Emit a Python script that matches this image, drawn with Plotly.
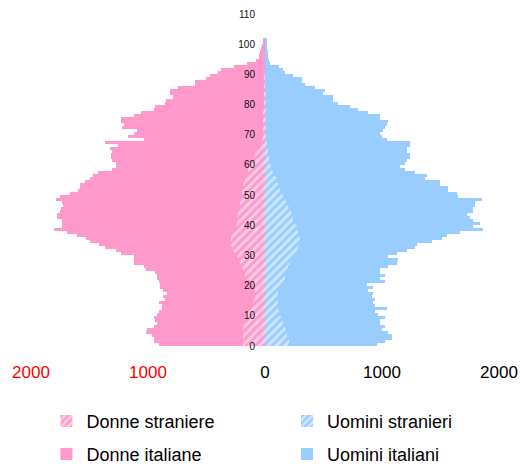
import plotly.graph_objects as go

# eta' da 0 a 101 anni
eta = list(range(102))

donne_totale = [
    906, 949, 949, 966, 1017, 1009, 949, 923, 940, 949,
    923, 906, 881, 881, 906, 855, 872, 838, 872, 898,
    898, 906, 923, 923, 940, 1017, 1035, 1120, 1120, 1120,
    1231, 1274, 1368, 1419, 1496, 1530, 1607, 1693, 1804, 1736,
    1736, 1736, 1778, 1778, 1753, 1744, 1727, 1736, 1787, 1753,
    1667, 1599, 1582, 1582, 1539, 1496, 1471, 1428, 1308, 1274,
    1274, 1308, 1317, 1317, 1308, 1325, 1257, 1368, 1035, 1171,
    1120, 1094, 1223, 1205, 1231, 1231, 1120, 1060, 949, 940,
    855, 846, 787, 812, 812, 744, 599, 599, 504, 470,
    402, 376, 265, 154, 77, 51, 51, 43, 34, 26,
    17, 9,
]

uomini_totale = [
    957, 1026, 1085, 1085, 1052, 1000, 1026, 983, 983, 1026,
    966, 940, 1043, 940, 923, 940, 915, 923, 881, 923,
    872, 1026, 983, 1026, 983, 983, 1052, 1129, 1137, 1052,
    1129, 1214, 1283, 1300, 1428, 1513, 1556, 1667, 1864, 1779,
    1838, 1779, 1753, 1727, 1779, 1779, 1796, 1796, 1855, 1650,
    1642, 1565, 1565, 1496, 1496, 1368, 1385, 1283, 1197, 1154,
    1197, 1214, 1240, 1240, 1214, 1214, 1240, 1240, 1043, 1000,
    983, 1009, 1026, 1043, 1052, 983, 983, 884, 798, 727,
    627, 584, 584, 493, 513, 427, 342, 314, 314, 237,
    171, 151, 122, 43, 37, 28, 28, 23, 9, 9,
    14, 14,
]

donne_straniere = [
    191, 185, 191, 185, 191, 185, 185, 178, 171, 165,
    157, 142, 128, 114, 100, 94, 85, 85, 85, 94,
    100, 128, 157, 171, 185, 191, 199, 214, 228, 242,
    256, 271, 285, 293, 299, 293, 285, 271, 256, 250,
    242, 236, 236, 230, 228, 219, 214, 214, 209, 200,
    200, 194, 188, 188, 171, 171, 157, 142, 142, 134,
    128, 114, 94, 85, 70, 55, 50, 37, 25, 20,
    17, 17, 17, 17, 17, 15, 15, 14, 12, 12,
    10, 10, 9, 8, 8, 7, 6, 6, 5, 5,
    4, 4, 3, 3, 2, 2, 1, 1, 1, 1,
    0, 0,
]

uomini_stranieri = [
    199, 208, 208, 191, 191, 180, 171, 157, 142, 134,
    122, 117, 114, 114, 114, 105, 105, 108, 114, 128,
    142, 157, 171, 171, 180, 191, 199, 214, 228, 242,
    256, 271, 285, 293, 293, 299, 293, 285, 276, 271,
    256, 242, 242, 236, 219, 208, 199, 185, 171, 157,
    142, 128, 122, 114, 105, 100, 85, 66, 57, 48,
    43, 43, 37, 28, 28, 23, 20, 14, 12, 12,
    10, 10, 10, 10, 9, 9, 8, 8, 7, 7,
    6, 6, 5, 5, 4, 4, 3, 3, 3, 2,
    2, 2, 1, 1, 1, 1, 0, 0, 0, 0,
    0, 0,
]

donne_italiane = [t - s for t, s in zip(donne_totale, donne_straniere)]
uomini_italiani = [t - s for t, s in zip(uomini_totale, uomini_stranieri)]

x_tick_vals = [-2000, -1000, 0, 1000, 2000]
x_tick_text = ['<span style="color:red">2000</span>',
               '<span style="color:red">1000</span>',
               '0', '1000', '2000']
y_tick_vals = list(range(0, 111, 10))

rosa = "#FF99CC"
azzurro = "#99CCFF"

fig = go.Figure()

fig.add_trace(go.Bar(y=eta, x=[-v for v in donne_straniere], orientation="h",
                     name="Donne straniere", legend="legend",
                     marker=dict(color=rosa, line_width=0,
                                 pattern=dict(shape="/", fgcolor="white",
                                              size=6, solidity=0.5)),
                     width=1, offset=0))
fig.add_trace(go.Bar(y=eta, x=uomini_stranieri, orientation="h",
                     name="Uomini stranieri", legend="legend2",
                     marker=dict(color=azzurro, line_width=0,
                                 pattern=dict(shape="/", fgcolor="white",
                                              size=6, solidity=0.5)),
                     width=1, offset=0))
fig.add_trace(go.Bar(y=eta, x=[-v for v in donne_italiane], orientation="h",
                     name="Donne italiane", legend="legend3",
                     marker=dict(color=rosa, line_width=0),
                     width=1, offset=0))
fig.add_trace(go.Bar(y=eta, x=uomini_italiani, orientation="h",
                     name="Uomini italiani", legend="legend4",
                     marker=dict(color=azzurro, line_width=0),
                     width=1, offset=0))

leg_font = dict(family="Liberation Sans, Arial, sans-serif", size=18, color="black")


def legenda(x, y):
    return dict(x=x, y=y, xanchor="left", yanchor="middle", font=leg_font,
                bgcolor="rgba(0,0,0,0)", borderwidth=0, visible=True)


fig.update_layout(
    width=520, height=469,
    margin=dict(l=31, r=21, t=14, b=123, autoexpand=False),
    plot_bgcolor="white", paper_bgcolor="white",
    barmode="relative", bargap=0,
    showlegend=True,
    font=dict(family="Liberation Sans, Arial, sans-serif", color="black"),
    legend=legenda(0.033, -0.227),
    legend2=legenda(0.547, -0.227),
    legend3=legenda(0.033, -0.326),
    legend4=legenda(0.547, -0.326),
    xaxis=dict(range=[-2000, 2000], tickvals=x_tick_vals, ticktext=x_tick_text,
               showgrid=False, zeroline=False, showline=False, ticks="",
               tickfont=dict(size=17, color="black"), ticklabelstandoff=14,
               automargin=False, fixedrange=True),
    yaxis=dict(range=[0, 110], tickvals=y_tick_vals, showgrid=False,
               zeroline=False, showline=False, ticks="",
               anchor="free", position=0.5, layer="above traces",
               tickfont=dict(size=10, color="#111"), ticklabelstandoff=10,
               automargin=False, fixedrange=True),
)

# niente margine della pagina, cosi' il grafico parte dall'angolo in alto a sinistra
fig.write_html("out.html", config={"displayModeBar": False},
               post_script="document.body.style.margin='0';")
